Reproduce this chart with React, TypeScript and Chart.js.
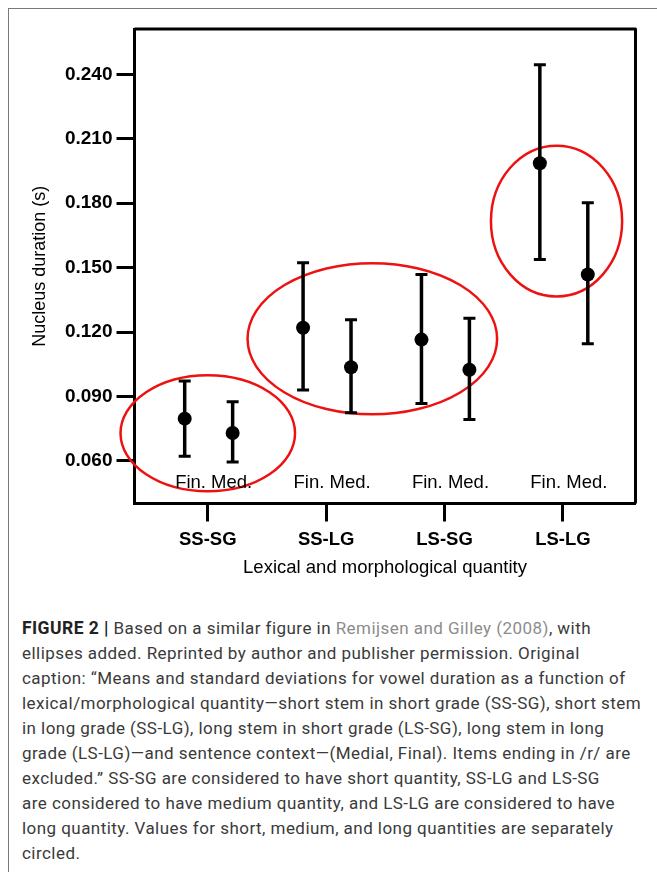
import React, { useEffect, useRef } from 'react';
import { Chart, registerables } from 'chart.js';

Chart.register(...registerables);

// ---- data ----
const categories = ['SS-SG', 'SS-LG', 'LS-SG', 'LS-LG'];
const finMean = [0.0797, 0.122, 0.1165, 0.1986];
const finUpper = [0.0972, 0.1523, 0.1468, 0.2445];
const finLower = [0.0622, 0.093, 0.0868, 0.1538];
const medMean = [0.073, 0.1036, 0.1025, 0.1468];
const medUpper = [0.0876, 0.1258, 0.1264, 0.1802];
const medLower = [0.0595, 0.0825, 0.0793, 0.1146];
const yTicks = [0.06, 0.09, 0.12, 0.15, 0.18, 0.21, 0.24];
const contextLabel = 'Fin. Med.';

// ellipse annotations (data units): centre category, centre value, half-widths
const ellipseCx = [1.0, 2.39, 3.946];
const ellipseCy = [0.0729, 0.1169, 0.1717];
const ellipseRx = [0.737, 1.054, 0.554];
const ellipseRy = [0.027, 0.0352, 0.0351];

const FIN_OFF = -0.195;
const MED_OFF = 0.21;
const FONT = '"Liberation Sans", Arial, sans-serif';

export default function App() {
  const ref = useRef<HTMLCanvasElement>(null);

  useEffect(() => {
    const canvas = ref.current!;

    const boxAndBars = {
      id: 'boxAndBars',
      beforeDatasetsDraw(chart: any) {
        const { ctx, scales } = chart;
        const xs = scales.x, ys = scales.y;
        ctx.save();
        // ellipses
        ctx.strokeStyle = '#ee1111';
        ctx.lineWidth = 2.5;
        for (let i = 0; i < ellipseCx.length; i++) {
          const cx = xs.getPixelForValue(ellipseCx[i]);
          const cy = ys.getPixelForValue(ellipseCy[i]);
          const rx = Math.abs(xs.getPixelForValue(ellipseCx[i] + ellipseRx[i]) - cx);
          const ry = Math.abs(ys.getPixelForValue(ellipseCy[i] + ellipseRy[i]) - cy);
          ctx.beginPath();
          ctx.ellipse(cx, cy, rx, ry, 0, 0, Math.PI * 2);
          ctx.stroke();
        }
        // error bars
        ctx.strokeStyle = '#000';
        const series = [
          { off: FIN_OFF, up: finUpper, lo: finLower },
          { off: MED_OFF, up: medUpper, lo: medLower },
        ];
        series.forEach((s) => {
          categories.forEach((_, i) => {
            const x = xs.getPixelForValue(i + 1 + s.off);
            const yu = ys.getPixelForValue(s.up[i]);
            const yl = ys.getPixelForValue(s.lo[i]);
            ctx.lineWidth = 3.5;
            ctx.beginPath();
            ctx.moveTo(x, yu);
            ctx.lineTo(x, yl);
            ctx.stroke();
            ctx.lineWidth = 3;
            ctx.beginPath();
            ctx.moveTo(x - 6, yu);
            ctx.lineTo(x + 6, yu);
            ctx.moveTo(x - 6, yl);
            ctx.lineTo(x + 6, yl);
            ctx.stroke();
          });
        });
        ctx.restore();
      },
      afterDatasetsDraw(chart: any) {
        const { ctx, chartArea, scales } = chart;
        const xs = scales.x, ys = scales.y;
        ctx.save();
        // box top/right
        ctx.strokeStyle = '#000';
        ctx.lineWidth = 3;
        ctx.lineJoin = 'round';
        ctx.beginPath();
        ctx.moveTo(chartArea.left, chartArea.top);
        ctx.lineTo(chartArea.right, chartArea.top);
        ctx.lineTo(chartArea.right, chartArea.bottom);
        ctx.stroke();
        // context labels
        ctx.fillStyle = '#000';
        ctx.font = `18.5px ${FONT}`;
        ctx.textAlign = 'center';
        ctx.textBaseline = 'alphabetic';
        categories.forEach((_, i) => {
          const x = xs.getPixelForValue(i + 1 + 0.05);
          const y = ys.getPixelForValue(0.0475);
          ctx.fillText(contextLabel, x, y);
        });
        ctx.restore();
      },
    };

    const chart = new Chart(canvas, {
      type: 'scatter',
      data: {
        datasets: [
          {
            label: 'Fin.',
            data: finMean.map((v, i) => ({ x: i + 1 + FIN_OFF, y: v })),
            backgroundColor: '#000',
            borderColor: '#000',
            pointRadius: 7,
            pointBorderWidth: 0,
          },
          {
            label: 'Med.',
            data: medMean.map((v, i) => ({ x: i + 1 + MED_OFF, y: v })),
            backgroundColor: '#000',
            borderColor: '#000',
            pointRadius: 7,
            pointBorderWidth: 0,
          },
        ],
      },
      options: {
        responsive: false,
        animation: false,
        devicePixelRatio: 1,
        layout: { padding: { top: 29, right: 21.5, left: 0, bottom: 0 } },
        plugins: { legend: { display: false }, tooltip: { enabled: false } },
        scales: {
          x: {
            type: 'linear',
            position: 'bottom',
            min: 0.381,
            max: 4.613,
            afterFit: (s: any) => {
              s.height = 96.5;
            },
            afterBuildTicks: (s: any) => {
              s.ticks = categories.map((_, i) => ({ value: i + 1 }));
            },
            ticks: {
              autoSkip: false,
              maxRotation: 0,
              callback: (_v: any, i: number) => categories[i],
              font: { family: FONT, size: 18.5, weight: 'bold' },
              color: '#000',
              padding: 7,
            },
            grid: {
              drawOnChartArea: false,
              drawTicks: true,
              tickLength: 18,
              tickWidth: 3,
              tickColor: '#000',
            },
            border: { display: true, width: 3, color: '#000' },
            title: {
              display: true,
              text: 'Lexical and morphological quantity',
              font: { family: FONT, size: 18.5 },
              color: '#000',
              padding: { top: 0, bottom: 21 },
            },
          },
          y: {
            type: 'linear',
            min: 0.0402,
            max: 0.2611,
            afterFit: (s: any) => {
              s.width = 134.5;
            },
            afterBuildTicks: (s: any) => {
              s.ticks = yTicks.map((v) => ({ value: v }));
            },
            ticks: {
              autoSkip: false,
              callback: (v: any) => Number(v).toFixed(3),
              font: { family: FONT, size: 19, weight: 'bold' },
              color: '#000',
              padding: 4,
            },
            grid: {
              drawOnChartArea: false,
              drawTicks: true,
              tickLength: 18,
              tickWidth: 3,
              tickColor: '#000',
            },
            border: { display: true, width: 3, color: '#000' },
            title: {
              display: true,
              text: 'Nucleus duration (s)',
              font: { family: FONT, size: 18 },
              color: '#000',
              padding: { top: 29, bottom: 0 },
            },
          },
        },
      },
      plugins: [boxAndBars],
    } as any);

    return () => chart.destroy();
  }, []);

  const lineStyle: React.CSSProperties = { whiteSpace: 'nowrap', height: 25, lineHeight: '25px' };
  const link: React.CSSProperties = { color: '#8c8c8c' };

  return (
    <div style={{ position: 'absolute', left: 0, top: 0, width: 657, height: 872, overflow: 'hidden', background: '#fff' }}>
      <div
        style={{
          position: 'absolute',
          left: 8,
          top: 8,
          width: 700,
          height: 900,
          borderTop: '1px solid #7a7a7a',
          borderLeft: '1px solid #7a7a7a',
        }}
      />
      <canvas ref={ref} width={657} height={600} style={{ position: 'absolute', left: 0, top: 0, width: 657, height: 600 }} />
      <div
        style={{
          position: 'absolute',
          left: 22,
          top: 616,
          fontFamily: 'Roboto, "Liberation Sans", sans-serif',
          fontSize: 17,
          letterSpacing: '0.45px',
          color: '#3a3a3a',
        }}
      >
        <div style={lineStyle}>
          <b style={{ color: '#222', fontSize: 17.5 }}>FIGURE 2 |</b> Based on a similar figure in{' '}
          <span style={link}>Remijsen and Gilley (2008)</span>, with
        </div>
        <div style={lineStyle}>ellipses added. Reprinted by author and publisher permission. Original</div>
        <div style={lineStyle}>caption: “Means and standard deviations for vowel duration as a function of</div>
        <div style={lineStyle}>lexical/morphological quantity—short stem in short grade (SS-SG), short stem</div>
        <div style={lineStyle}>in long grade (SS-LG), long stem in short grade (LS-SG), long stem in long</div>
        <div style={lineStyle}>grade (LS-LG)—and sentence context—(Medial, Final). Items ending in /r/ are</div>
        <div style={lineStyle}>excluded.” SS-SG are considered to have short quantity, SS-LG and LS-SG</div>
        <div style={lineStyle}>are considered to have medium quantity, and LS-LG are considered to have</div>
        <div style={lineStyle}>long quantity. Values for short, medium, and long quantities are separately</div>
        <div style={lineStyle}>circled.</div>
      </div>
    </div>
  );
}
